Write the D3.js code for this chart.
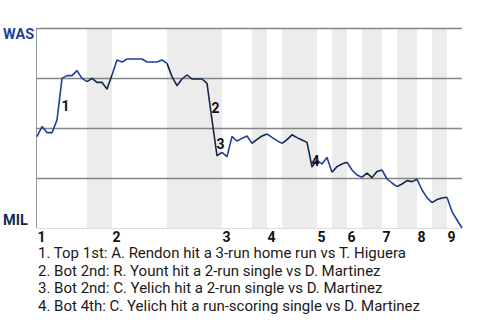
<!DOCTYPE html>
<html><head><meta charset="utf-8">
<script src="https://cdn.jsdelivr.net/npm/d3@7"></script>
<style>html,body{margin:0;padding:0;background:#fff;}svg{display:block;font-family:Roboto,"Noto Sans",sans-serif;}</style>
</head><body>
<svg id="c" width="480" height="320"></svg>
<script>
// WAS win probability (%) after each play
const winProb = [45.7,50.7,47.7,47.7,54,74.8,76.2,76.2,78.7,74.8,
  73.2,74.8,72.8,72.8,69.5,76.5,84,83,84.5,84.5,
  84.5,84.5,83,83,83,84,82.3,75.7,71.2,74.5,
  76.5,74.5,74.5,74.5,72.3,54,36.2,37.8,35.7,45.7,
  43.5,44.8,46,42.3,44.3,46,47,45.3,43.7,42.3,
  44.2,46.6,45.2,44,42.8,30.6,34,32,35.2,27.9,
  30.7,32,32.9,29,26.5,25.4,27.4,25.2,28.2,29,
  24.5,22.5,20.7,22,23.7,23.2,24.4,19,15.2,12.7,
  14.2,15,15.4,8.2,4,0];
// play index where each half-inning starts (top 1st, bot 1st, top 2nd, ...), last = end
const halfStarts = [0,10,15,26,37,43,46,49,56,59,62,65,69,72,76,79,82,85];
const inningLabels = ["1","2","3","4","5","6","7","8","9"];
const gridValues = [25,50,75,100];
const teams = ["WAS","MIL"];
const eventIdx = [5,35,36,55];
const eventText = [
  "1. Top 1st: A. Rendon hit a 3-run home run vs T. Higuera",
  "2. Bot 2nd: R. Yount hit a 2-run single vs D. Martinez",
  "3. Bot 2nd: C. Yelich hit a 2-run single vs D. Martinez",
  "4. Bot 4th: C. Yelich hit a run-scoring single vs D. Martinez"
];
const colWAS = "#1f3f9f", colMIL = "#12284b";

const svg = d3.select("#c");
const x = d3.scaleLinear().domain([0, winProb.length-1]).range([37, 462]);
const y = d3.scaleLinear().domain([0,100]).range([228, 28]);

// shaded bottom halves
for (let h = 1; h < halfStarts.length-1; h += 2) {
  svg.append("rect").attr("x", x(halfStarts[h])).attr("y", y(100))
    .attr("width", x(halfStarts[h+1]) - x(halfStarts[h])).attr("height", y(0)-y(100))
    .attr("fill", "#ececec");
}
// grid
svg.selectAll(".g").data(gridValues).enter().append("line")
  .attr("x1", x(0)).attr("x2", x(winProb.length-1))
  .attr("y1", d => Math.round(y(d))+0.5).attr("y2", d => Math.round(y(d))+0.5)
  .attr("stroke", "#858585").attr("stroke-width", 1.3);
svg.append("line").attr("x1", x(0)).attr("x2", x(winProb.length-1))
  .attr("y1", y(0)+0.5).attr("y2", y(0)+0.5).attr("stroke", "#dddddd").attr("stroke-width", 1);
svg.append("line").attr("x1", x(0)-0.5).attr("x2", x(0)-0.5)
  .attr("y1", y(100)).attr("y2", y(0)).attr("stroke", "#9a9a9a").attr("stroke-width", 1);

// line segments per half inning
const line = d3.line().x(d => x(d[0])).y(d => y(d[1]));
for (let h = 0; h < halfStarts.length-1; h++) {
  const pts = [];
  for (let i = halfStarts[h]; i <= halfStarts[h+1]; i++) pts.push([i, winProb[i]]);
  svg.append("path").attr("d", line(pts)).attr("fill", "none")
    .attr("stroke", h % 2 === 0 ? colWAS : colMIL).attr("stroke-width", 1.6)
    .attr("stroke-linejoin", "round");
}

// event labels
eventIdx.forEach((e, k) => {
  const mx = (x(e-1) + x(e)) / 2, my = (y(winProb[e-1]) + y(winProb[e])) / 2;
  svg.append("text").attr("x", mx + 2).attr("y", my + 11.5)
    .attr("font-size", 14).attr("font-weight", "bold").attr("fill", "#111")
    .text(String(k+1));
});

// team labels
svg.append("text").attr("x", 3).attr("y", 38.5).attr("font-size", 14.5).attr("font-weight", "bold")
  .attr("fill", colWAS).text(teams[0]);
svg.append("text").attr("x", 3).attr("y", 225).attr("font-size", 14.5).attr("font-weight", "bold")
  .attr("fill", colMIL).text(teams[1]);

// inning labels
inningLabels.forEach((t, k) => {
  svg.append("text").attr("x", x(halfStarts[2*k]) + 0.5).attr("y", 242)
    .attr("font-size", 14).attr("font-weight", "bold").attr("fill", "#111").text(t);
});

// event legend
eventText.forEach((t, k) => {
  svg.append("text").attr("x", 38).attr("y", 258 + k*17.6)
    .attr("font-size", 15).attr("fill", "#1a1a1a").text(t);
});
</script>
</body></html>
